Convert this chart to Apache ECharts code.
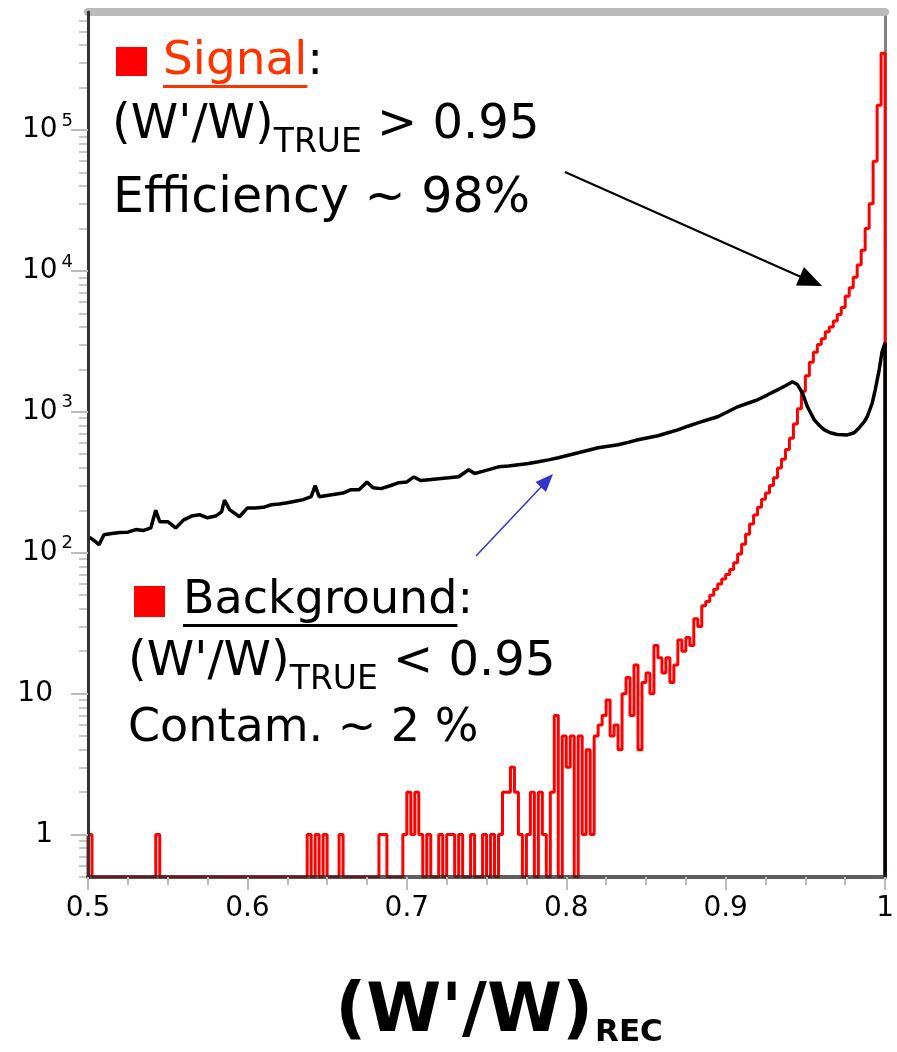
<!DOCTYPE html>
<html>
<head>
<meta charset="utf-8">
<script src="https://cdn.jsdelivr.net/npm/echarts@6/dist/echarts.min.js"></script>
<style>
  html, body {margin: 0; padding: 0; background: #fff;}
  #chart {width: 897px; height: 1052px;}
</style>
</head>
<body>
<div id="chart"></div>
<script>
// axis ranges
const X_MIN = 0.5, X_MAX = 1.0;
const Y_MIN = 0.5, Y_MAX = 6.87e5;
const FLOOR = Y_MIN; // empty bins sit on the bottom axis

// signal histogram (W'/W)_TRUE > 0.95 : 200 bins of 0.0025 from 0.5
const SIG_BIN_W = 0.0025;
const sigCounts = [
  1, 0, 0, 0, 0, 0, 0, 0, 0, 0, 0, 0, 0, 0, 0, 0, 0, 1, 0, 0,
  0, 0, 0, 0, 0, 0, 0, 0, 0, 0, 0, 0, 0, 0, 0, 0, 0, 0, 0, 0,
  0, 0, 0, 0, 0, 0, 0, 0, 0, 0, 0, 0, 0, 0, 0, 1, 0, 1, 0, 1,
  0, 0, 0, 1, 0, 0, 0, 0, 0, 0, 0, 0, 0, 1, 1, 0, 0, 0, 0, 1,
  2, 1, 2, 1, 0, 1, 0, 0, 1, 0, 1, 1, 0, 1, 0, 0, 1, 0, 0, 1,
  0, 1, 0, 1, 2, 2, 3, 2, 1, 0, 1, 2, 0, 2, 1, 0, 2, 7, 0, 5,
  3, 5, 0, 5, 1, 4, 1, 5, 6, 7, 9, 5, 6, 4, 10, 13, 7, 16, 4, 12,
  14, 10, 22, 18, 14, 18, 12, 16, 24, 20, 25, 22, 34, 30, 42, 45, 50, 55, 60, 65,
  70, 76, 85, 98, 115, 135, 160, 185, 210, 240, 265, 300, 340, 400, 460, 540, 650, 820, 1050, 1400,
  1800, 2250, 2650, 3000, 3300, 3700, 4000, 4400, 4900, 5500, 6600, 7600, 9000, 11000, 14000, 20000, 30000, 60000, 150000, 350000
];

// background curve (W'/W)_TRUE < 0.95
const bgX = [
  0.5, 0.5031, 0.5069, 0.51, 0.515, 0.52, 0.525, 0.53, 0.535, 0.5394,
  0.5425, 0.545, 0.55, 0.555, 0.56, 0.565, 0.57, 0.575, 0.58, 0.5838,
  0.5856, 0.5888, 0.595, 0.6, 0.605, 0.61, 0.615, 0.62, 0.625, 0.63,
  0.635, 0.64, 0.6425, 0.645, 0.65, 0.655, 0.66, 0.665, 0.67, 0.675,
  0.6788, 0.6838, 0.69, 0.695, 0.7, 0.7044, 0.7088, 0.7138, 0.72, 0.7263,
  0.7325, 0.7388, 0.7425, 0.7475, 0.7525, 0.7575, 0.7638, 0.77, 0.7763, 0.7825,
  0.7888, 0.795, 0.8013, 0.8075, 0.8138, 0.82, 0.8263, 0.8325, 0.8388, 0.845,
  0.8513, 0.8575, 0.8638, 0.87, 0.8763, 0.8825, 0.8888, 0.895, 0.9013, 0.9075,
  0.9138, 0.92, 0.9263, 0.9325, 0.9375, 0.9419, 0.945, 0.9481, 0.9513, 0.9556,
  0.9588, 0.9619, 0.9656, 0.97, 0.9763, 0.9806, 0.9838, 0.9869, 0.9888, 0.9919,
  0.9938, 0.9963, 0.9981, 1.0, 1.0
];
const bgY = [
  130, 124, 114, 134, 137, 139, 140, 146, 144, 150,
  200, 166, 166, 150, 171, 182, 186, 177, 182, 195,
  236, 202, 180, 208, 208, 210, 219, 222, 226, 232,
  238, 250, 299, 250, 255, 260, 265, 280, 280, 317,
  289, 285, 300, 314, 318, 345, 325, 330, 335, 340,
  346, 388, 365, 378, 392, 407, 412, 421, 430, 442,
  456, 472, 492, 512, 534, 556, 570, 583, 607, 633,
  655, 676, 710, 745, 790, 835, 878, 922, 1000, 1085,
  1150, 1217, 1320, 1432, 1530, 1632, 1560, 1364, 1085, 877,
  800, 745, 710, 690, 685, 710, 771, 850, 922, 1150,
  1432, 1985, 2666, 3085, 0
];

// ticks
const xTickLabels = {0.5: '0.5', 0.6: '0.6', 0.7: '0.7', 0.8: '0.8', 0.9: '0.9', 1: '1'};
const yMajor = [1, 10, 100, 1000, 10000, 100000];
const yMinor = [0.5, 0.6, 0.7, 0.8, 0.9,
  2, 3, 4, 5, 6, 7, 8, 9,
  20, 30, 40, 50, 60, 70, 80, 90,
  200, 300, 400, 500, 600, 700, 800, 900,
  2000, 3000, 4000, 5000, 6000, 7000, 8000, 9000,
  20000, 30000, 40000, 50000, 60000, 70000, 80000, 90000,
  200000, 300000, 400000, 500000, 600000];

const FONT = '"DejaVu Sans", sans-serif';
const ctx = document.createElement('canvas').getContext('2d');
function textWidth(txt, size, weight) {
  ctx.font = (weight || 'normal') + ' ' + size + 'px ' + FONT;
  return ctx.measureText(txt).width;
}

const sigData = [[X_MIN, FLOOR]]
  .concat(sigCounts.map((c, i) => [+(X_MIN + i * SIG_BIN_W).toFixed(4), c > 0 ? c : FLOOR]))
  .concat([[X_MAX, FLOOR]]);
const bgData = bgX.map((x, i) => [x, bgY[i] > 0 ? bgY[i] : FLOOR]);

const chart = echarts.init(document.getElementById('chart'));
chart.setOption({
  animation: false,
  backgroundColor: '#fff',
  grid: {left: 88, right: 9, top: 12, bottom: 175},
  xAxis: [
    {
      type: 'value', min: X_MIN, max: X_MAX, interval: 0.1, position: 'bottom', z: 4,
      axisLine: {show: true, onZero: false, lineStyle: {color: 'rgba(40,40,40,0.75)', width: 4}},
      axisTick: {show: true, length: 13, lineStyle: {color: '#bbb', width: 2}},
      minorTick: {show: true, splitNumber: 4, length: 8, lineStyle: {color: '#bbb', width: 2}},
      axisLabel: {
        margin: 18, color: '#000', fontSize: 28, fontFamily: FONT,
        formatter: v => xTickLabels[Math.round(v * 10) / 10] || ''
      },
      splitLine: {show: false}
    },
    {
      type: 'value', min: X_MIN, max: X_MAX, position: 'top',
      axisLine: {show: true, onZero: false, lineStyle: {color: '#bbb', width: 8}},
      axisTick: {show: false}, axisLabel: {show: false}, splitLine: {show: false}
    }
  ],
  yAxis: [
    {
      type: 'log', min: Y_MIN, max: Y_MAX, position: 'left', z: 4,
      axisLine: {show: true, onZero: false, lineStyle: {color: '#333', width: 3}},
      axisTick: {show: true, customValues: yMajor, length: 17, lineStyle: {color: '#bbb', width: 2}},
      axisLabel: {
        customValues: yMajor, margin: 15,
        formatter: v => {
          const e = Math.round(Math.log10(v));
          if (e === 0) return '{b|1}{pad| }';
          if (e === 1) return '{b|10}{pad| }';
          return '{b|10}{sup|' + e + '}';
        },
        rich: {
          b: {fontSize: 28, fontFamily: FONT, color: '#000'},
          sup: {fontSize: 18, fontFamily: FONT, color: '#000', padding: [0, 0, 18, 4]},
          pad: {width: 20, fontSize: 17}
        }
      },
      splitLine: {show: false}
    },
    {
      type: 'log', min: Y_MIN, max: Y_MAX, position: 'left',
      axisLine: {show: false},
      axisTick: {show: true, customValues: yMinor, length: 9, lineStyle: {color: '#c8c8c8', width: 2}},
      axisLabel: {show: false}, splitLine: {show: false}
    },
    {
      type: 'log', min: Y_MIN, max: Y_MAX, position: 'right',
      axisLine: {show: true, onZero: false, lineStyle: {color: '#808080', width: 3}},
      axisTick: {show: false}, axisLabel: {show: false}, splitLine: {show: false}
    }
  ],
  series: [
    {
      name: 'Signal', type: 'line', step: 'end', data: sigData,
      xAxisIndex: 0, yAxisIndex: 0, symbol: 'none', clip: true,
      lineStyle: {color: '#ff0000', width: 3}
    },
    {
      name: 'Background', type: 'line', data: bgData,
      xAxisIndex: 0, yAxisIndex: 0, symbol: 'none', clip: true,
      lineStyle: {color: '#000', width: 3.5}
    }
  ],
  graphic: [
    // signal box
    {type: 'rect', shape: {x: 116, y: 47, width: 31, height: 29}, style: {fill: '#ff0000'}},
    {type: 'text', x: 163, y: 62, style: {
      text: '{sig|Signal}:', fontSize: 47, fontFamily: FONT, fill: '#000', verticalAlign: 'middle',
      rich: {sig: {fontSize: 47, fontFamily: FONT, fill: '#ff3300'}}
    }},
    {type: 'rect', shape: {x: 163, y: 85, width: textWidth('Signal', 47), height: 3}, style: {fill: '#ff3300'}},
    {type: 'text', x: 112, y: 126, style: {
      text: "(W'/W){sub|TRUE} > 0.95", fontSize: 48, fontFamily: FONT, fill: '#000', verticalAlign: 'middle',
      rich: {sub: {fontSize: 33, fontFamily: FONT, fill: '#000', padding: [34, 0, 0, 0]}}
    }},
    {type: 'text', x: 113, y: 199, style: {
      text: 'Efficiency ~ 98%', fontSize: 49, fontFamily: FONT, fill: '#000', verticalAlign: 'middle'
    }},
    // background box
    {type: 'rect', shape: {x: 134, y: 586, width: 31, height: 31}, style: {fill: '#ff0000'}},
    {type: 'text', x: 183, y: 601, style: {
      text: 'Background:', fontSize: 46, fontFamily: FONT, fill: '#000', verticalAlign: 'middle'
    }},
    {type: 'rect', shape: {x: 183, y: 624, width: textWidth('Background', 46), height: 3}, style: {fill: '#000'}},
    {type: 'text', x: 128, y: 663, style: {
      text: "(W'/W){sub|TRUE} < 0.95", fontSize: 48, fontFamily: FONT, fill: '#000', verticalAlign: 'middle',
      rich: {sub: {fontSize: 33, fontFamily: FONT, fill: '#000', padding: [34, 0, 0, 0]}}
    }},
    {type: 'text', x: 128, y: 729, style: {
      text: 'Contam. ~ 2 %', fontSize: 46, fontFamily: FONT, fill: '#000', verticalAlign: 'middle'
    }},
    // arrows
    {type: 'polyline', shape: {points: [[565, 172], [801, 277]]}, style: {stroke: '#000', lineWidth: 2}},
    {type: 'polygon', shape: {points: [[822, 286], [796, 285.5], [804, 267]]}, style: {fill: '#000'}},
    {type: 'polyline', shape: {points: [[476, 556], [542, 486]]}, style: {stroke: '#3333cc', lineWidth: 1.5}},
    {type: 'polygon', shape: {points: [[553, 474], [546, 492], [535.5, 482]]}, style: {fill: '#3333cc'}},
    // x axis title
    {type: 'text', x: 499, y: 1013, style: {
      text: "(W'/W){sub|REC}", fontSize: 68, fontWeight: 'bold', fontFamily: FONT, fill: '#000',
      align: 'center', verticalAlign: 'middle',
      rich: {sub: {fontSize: 31, fontWeight: 'bold', fontFamily: FONT, fill: '#000', padding: [40, 0, 0, 2]}}
    }}
  ]
});
</script>
</body>
</html>
